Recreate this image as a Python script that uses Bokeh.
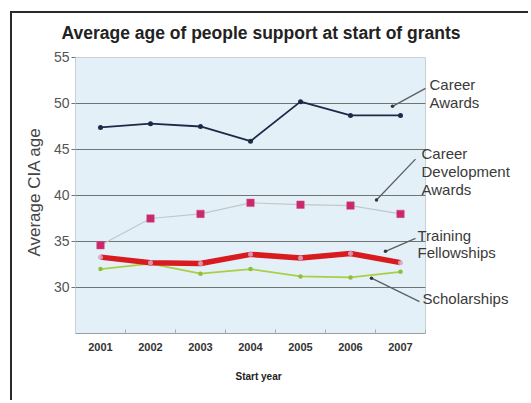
from bokeh.plotting import figure
from bokeh.models import Range1d, FixedTicker, Title
from bokeh.core.properties import value
from bokeh.embed import file_html
from bokeh.resources import INLINE

# ---- data ----
years = ["2001", "2002", "2003", "2004", "2005", "2006", "2007"]
career_awards = [47.4, 47.8, 47.5, 45.9, 50.2, 48.7, 48.7]
career_development = [34.6, 37.5, 38.0, 39.2, 39.0, 38.9, 38.0]
training_fellowships = [33.3, 32.7, 32.6, 33.6, 33.2, 33.7, 32.7]
scholarships = [32.0, 32.6, 31.5, 32.0, 31.2, 31.1, 31.7]
y_ticks = [30, 35, 40, 45, 50, 55]
y_min, y_max = 25, 55

# annotation labels (text lines) and their placement
ann_text = ["Career", "Awards", "Career", "Development", "Awards",
            "Training", "Fellowships", "Scholarships"]
ann_x = [7.08, 7.08, 6.92, 6.92, 6.92, 6.84, 6.84, 6.94]
ann_y = [52.08, 50.13, 44.60, 42.65, 40.70, 35.61, 33.77, 28.79]
lead_x0 = [6.34, 6.02, 6.20, 5.92]
lead_y0 = [49.69, 39.51, 33.93, 31.01]
lead_x1 = [7.00, 6.80, 6.80, 6.88]
lead_y1 = [51.64, 43.95, 35.34, 28.47]

FONT = value("Liberation Sans")
n = len(years)
xs = [i + 0.5 for i in range(n)]

# ---- layout (pixels) ----
W, H = 518, 389
LEFT = 63            # plot-area left edge
PX_X = 50.0          # pixels per category
PLOT_TOP = 43        # pixel row of y_max
PLOT_BOTTOM = 320    # pixel row of y_min
FRAME_TOP = 36
PX_Y = (PLOT_BOTTOM - PLOT_TOP) / (y_max - y_min)
y_top = y_max + (PLOT_TOP - FRAME_TOP) / PX_Y

p = figure(width=W, height=H, output_backend="svg", toolbar_location=None,
           x_range=Range1d(0, (W - LEFT) / PX_X), y_range=Range1d(y_min, y_top),
           min_border_left=LEFT, min_border_right=0, min_border_top=FRAME_TOP,
           min_border_bottom=H - PLOT_BOTTOM)
p.styles = {"border-top": "2px solid #2a2a2a", "border-left": "2px solid #2a2a2a",
            "margin-left": "10px", "margin-top": "11px"}
p.outline_line_color = None
p.background_fill_color = "white"
p.border_fill_color = "white"
p.xgrid.visible = False
p.ygrid.visible = False

# title
p.title.text = "Average age of people support at start of grants"
p.title.text_font = "Liberation Sans"
p.title.text_font_size = "17.5px"
p.title.text_font_style = "bold"
p.title.text_color = "#222222"
p.title.align = "left"
p.title.offset = -14
p.title.standoff = 15

# plot area background
p.quad(left=0, right=n, bottom=y_min, top=y_max, fill_color="#e3f0f7",
       line_color="#c9cfd2", line_width=1)
# horizontal grid lines
grid_vals = [t for t in y_ticks if t < y_max]
p.segment(x0=[0] * len(grid_vals), x1=[n] * len(grid_vals), y0=grid_vals,
          y1=grid_vals, line_color="#6f7575", line_width=1.2)

# series
p.line(xs, scholarships, line_color="#a9cf46", line_width=1.8)
p.scatter(xs, scholarships, size=4.5, fill_color="#8dbf3a", line_color=None)

p.line(xs, training_fellowships, line_color="#d81b1e", line_width=5.5)
p.scatter(xs, training_fellowships, size=5, fill_color="#d8a6c8",
          fill_alpha=0.85, line_color=None)

p.line(xs, career_development, line_color="#c2c7cb", line_width=1.2)
p.scatter(xs, career_development, marker="square", size=7.5,
          fill_color="#c9286c", line_color="#d84a86", line_width=0.5)

p.line(xs, career_awards, line_color="#1c2a4a", line_width=1.8)
p.scatter(xs, career_awards, size=5, fill_color="#1c2a4a", line_color=None)

# annotations
p.segment(x0=lead_x0, y0=lead_y0, x1=lead_x1, y1=lead_y1,
          line_color="#5a5f63", line_width=1.3)
p.scatter(lead_x0, lead_y0, size=3.5, fill_color="#333333", line_color=None)
p.text(x=ann_x, y=ann_y, text=ann_text, text_font=FONT, text_font_size="15px",
       text_color="#3a3a3a", text_baseline="middle", text_align="left")

# x axis
xa = p.xaxis[0]
xa.ticker = FixedTicker(ticks=xs, minor_ticks=list(range(n + 1)))
xa.major_label_overrides = {x: y for x, y in zip(xs, years)}
xa.bounds = (0, n)
xa.axis_line_color = "#9a9fa2"
xa.major_tick_in = 0
xa.major_tick_out = 0
xa.minor_tick_in = 4
xa.minor_tick_out = 0
xa.minor_tick_line_color = "#a8adb0"
xa.major_label_text_font = "Liberation Sans"
xa.major_label_text_font_size = "11px"
xa.major_label_text_font_style = "bold"
xa.major_label_text_color = "#333333"
xa.major_label_standoff = 9

# x axis title, placed under the category block
p.add_layout(Title(text="Start year", align="left", offset=160, standoff=31,
                   text_font="Liberation Sans", text_font_size="10px",
                   text_font_style="bold", text_color="#222222"), "below")

# y axis
ya = p.yaxis[0]
ya.ticker = FixedTicker(ticks=y_ticks)
ya.bounds = (y_min, y_max)
ya.axis_line_color = "#c9cfd2"
ya.major_tick_in = 0
ya.major_tick_out = 4
ya.major_tick_line_color = "#6f7575"
ya.minor_tick_line_color = None
ya.major_label_text_font = "Liberation Sans"
ya.major_label_text_font_size = "14px"
ya.major_label_text_color = "#555555"
ya.major_label_standoff = 2
ya.axis_label = "Average CIA age"
ya.axis_label_text_font = "Liberation Sans"
ya.axis_label_text_font_size = "17px"
ya.axis_label_text_font_style = "normal"
ya.axis_label_text_color = "#444444"
ya.axis_label_standoff = 7

open("out.html", "w").write(file_html(p, INLINE))
